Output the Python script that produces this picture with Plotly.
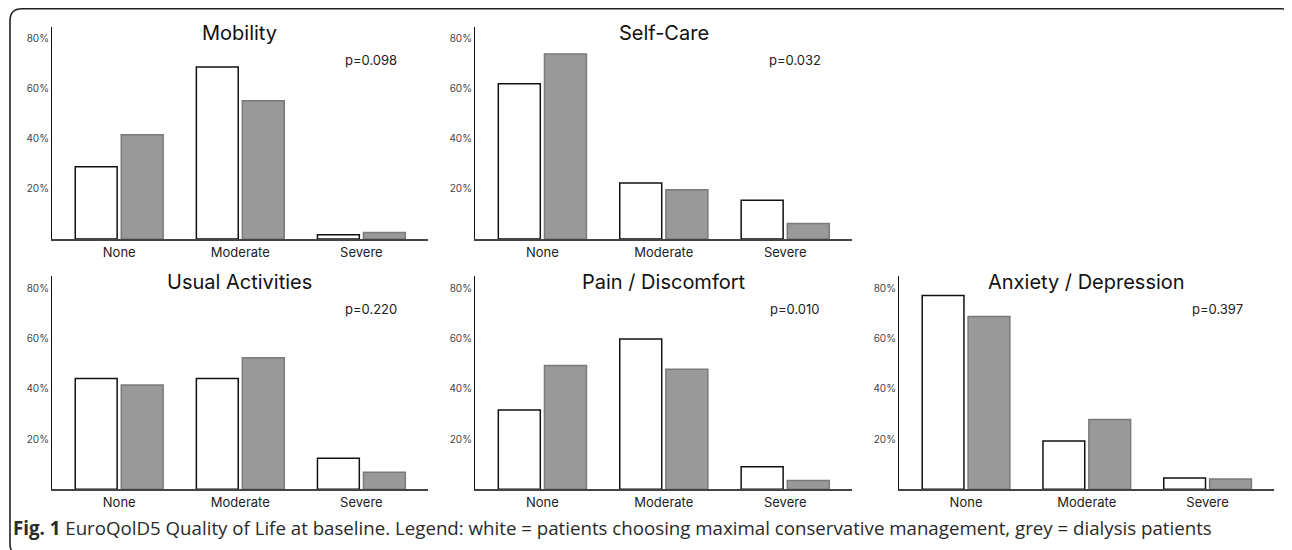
import plotly.graph_objects as go

# the page body has an 8px margin; work in screen pixels and offset
OFF = 8
W, H = 1292 - OFF, 550 - OFF

categories = ["None", "Moderate", "Severe"]
panel_titles = ["Mobility", "Self-Care", "Usual Activities", "Pain / Discomfort", "Anxiety / Depression"]
p_values = ["p=0.098", "p=0.032", "p=0.220", "p=0.010", "p=0.397"]

# percentages: white = maximal conservative management, grey = dialysis
mobility_white = [28.8, 68.6, 1.7]
mobility_grey = [41.6, 55.1, 2.6]
selfcare_white = [61.9, 22.3, 15.4]
selfcare_grey = [73.7, 19.6, 6.2]
usual_white = [44.1, 44.1, 12.4]
usual_grey = [41.6, 52.4, 6.8]
pain_white = [31.6, 59.9, 9.0]
pain_grey = [49.3, 47.8, 3.5]
anxiety_white = [77.2, 19.2, 4.5]
anxiety_grey = [68.8, 27.8, 4.1]

whites = [mobility_white, selfcare_white, usual_white, pain_white, anxiety_white]
greys = [mobility_grey, selfcare_grey, usual_grey, pain_grey, anxiety_grey]

ytick_vals = [20, 40, 60, 80]
ytick_text = ["20%", "40%", "60%", "80%"]

caption_bold = "Fig. 1"
caption_text = ("EuroQolD5 Quality of Life at baseline. Legend: white = patients choosing maximal "
                "conservative management, grey = dialysis patients")

# panel boxes in screen pixels: (x0, x1, ytop, ybottom)
boxes = [
    (52, 428, 27, 239),
    (475, 852, 27, 239),
    (52, 428, 275.7, 489.3),
    (475, 852, 275.7, 489.3),
    (899, 1274, 275.7, 489.3),
]
yranges = [[0, 84.5], [0, 84.5], [0, 85.1], [0, 85.1], [0, 85.1]]


def px(x):
    return (x - OFF) / W


def py(y):
    return 1 - (y - OFF) / H


fig = go.Figure()
layout = {}
annotations = []
FONT = "Inter, Lato, sans-serif"

for i in range(5):
    n = "" if i == 0 else str(i + 1)
    xa, ya = "x" + n, "y" + n
    fig.add_trace(go.Bar(x=categories, y=whites[i], xaxis=xa, yaxis=ya,
                         marker=dict(color="white", line=dict(color="#111111", width=1.5)),
                         showlegend=False))
    fig.add_trace(go.Bar(x=categories, y=greys[i], xaxis=xa, yaxis=ya,
                         marker=dict(color="#999999", line=dict(color="#7a7a7a", width=1.5)),
                         showlegend=False))
    x0, x1, yt, yb = boxes[i]
    layout["xaxis" + n] = dict(domain=[px(x0), px(x1)], anchor=ya, range=[-0.555, 2.55],
                              showline=True, linecolor="#444444", linewidth=2,
                              showgrid=False, zeroline=False, ticks="",
                              tickfont=dict(family=FONT, size=13, color="#222222"))
    layout["yaxis" + n] = dict(domain=[py(yb), py(yt)], anchor=xa, range=yranges[i],
                              showline=True, linecolor="#111111", linewidth=1,
                              showgrid=False, zeroline=False, ticks="",
                              tickvals=ytick_vals, ticktext=ytick_text,
                              tickfont=dict(family=FONT, size=10, color="#444444"))
    annotations.append(dict(text=panel_titles[i], xref=xa + " domain", x=0.5,
                            yref="paper", y=py(yt + 6), xanchor="center", yanchor="middle",
                            showarrow=False,
                            font=dict(family=FONT, size=20, color="#111111")))
    annotations.append(dict(text=p_values[i], xref=xa + " domain", x=0.848,
                            yref="paper", y=py(yt + 33), xanchor="center", yanchor="middle",
                            showarrow=False,
                            font=dict(family=FONT, size=13, color="#222222")))

annotations.append(dict(text="<b>" + caption_bold + "</b> " + caption_text,
                        xref="paper", x=px(11), yref="paper", y=py(527),
                        xanchor="left", yanchor="middle", showarrow=False,
                        font=dict(family="Open Sans, sans-serif", size=18.7, color="#2a2a2a")))

# rounded frame around the figure (partly outside the view)
fx0, fy0, fx1, fy1, r = 10, 8.8, 1293, 556, 12
path = (f"M {px(fx0 + r)},{py(fy0)} L {px(fx1 - r)},{py(fy0)} "
        f"Q {px(fx1)},{py(fy0)} {px(fx1)},{py(fy0 + r)} "
        f"L {px(fx1)},{py(fy1 - r)} Q {px(fx1)},{py(fy1)} {px(fx1 - r)},{py(fy1)} "
        f"L {px(fx0 + r)},{py(fy1)} Q {px(fx0)},{py(fy1)} {px(fx0)},{py(fy1 - r)} "
        f"L {px(fx0)},{py(fy0 + r)} Q {px(fx0)},{py(fy0)} {px(fx0 + r)},{py(fy0)} Z")
shapes = [dict(type="path", path=path, xref="paper", yref="paper",
               line=dict(color="#222222", width=1.6), fillcolor="rgba(0,0,0,0)")]

fig.update_layout(**layout)
fig.update_layout(width=W, height=H, margin=dict(l=0, r=0, t=0, b=0),
                  paper_bgcolor="white", plot_bgcolor="white",
                  barmode="group", bargap=0.24, bargroupgap=0.09,
                  annotations=annotations, shapes=shapes, showlegend=False)

fig.write_html("out.html")
